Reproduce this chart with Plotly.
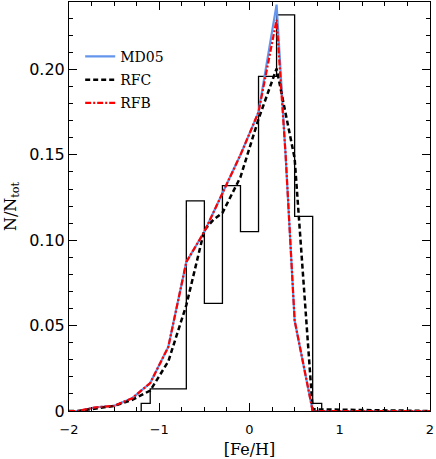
import plotly.graph_objects as go

# observed [Fe/H] histogram (bin edges and normalised counts)
hist_edges = [-1.2, -1.1, -0.9, -0.7, -0.5, -0.3, -0.1, 0.1, 0.3, 0.5, 0.7, 0.8]
hist_frac = [0.0045, 0.013, 0.013, 0.123, 0.063, 0.132, 0.105, 0.196, 0.232, 0.114, 0.0045]

# model curves
feh_grid = [-2.0, -1.9, -1.7, -1.5, -1.3, -1.1, -0.9, -0.7, -0.5, -0.3, -0.1, 0.1, 0.3, 0.4, 0.5, 0.7, 2.0]
md05 = [0.0, 0.0, 0.0022, 0.003, 0.0075, 0.0164, 0.0375, 0.0873, 0.105, 0.128, 0.150, 0.175, 0.238, 0.150, 0.053, 0.0, 0.0]
rfb = [0.0, 0.0, 0.0022, 0.003, 0.0075, 0.0164, 0.0375, 0.0873, 0.105, 0.128, 0.150, 0.175, 0.229, 0.150, 0.053, 0.0, 0.0]

rfc_grid = [-2.0, -1.9, -1.7, -1.5, -1.3, -1.1, -0.9, -0.7, -0.5, -0.4, -0.3, -0.1, 0.1, 0.3, 0.5, 0.7, 2.0]
rfc = [0.0, 0.0, 0.0015, 0.003, 0.0065, 0.012, 0.029, 0.062, 0.106, 0.112, 0.116, 0.137, 0.171, 0.2005, 0.148, 0.001, 0.0]

x_tick_vals = [-2, -1, 0, 1, 2]
y_tick_vals = [0, 0.05, 0.10, 0.15, 0.20]
y_tick_text = ["0", "0.05", "0.10", "0.15", "0.20"]

serif = "DejaVu Serif"
sans = "DejaVu Sans"

fig = go.Figure()

# histogram as a step outline
fig.add_trace(go.Scatter(
    x=[hist_edges[0]] + hist_edges,
    y=[0] + hist_frac + [0],
    mode='lines',
    line=dict(color='black', width=1.3, shape='hv'),
    showlegend=False,
    hoverinfo='skip'
))

fig.add_trace(go.Scatter(
    x=feh_grid, y=md05,
    mode='lines',
    line=dict(color='#6495ED', width=2.2),
    name='MD05', legendgroup='a'
))

fig.add_trace(go.Scatter(
    x=rfc_grid, y=rfc,
    mode='lines',
    line=dict(color='black', width=2.5, dash='5px,3px'),
    name='RFC', legendgroup='b'
))

fig.add_trace(go.Scatter(
    x=feh_grid, y=rfb,
    mode='lines',
    line=dict(color='red', width=2.2, dash='6px,2px,2px,2px'),
    name='RFB', legendgroup='c'
))

axis_common = dict(
    showline=True, linecolor='black', linewidth=1,
    mirror='ticks', ticks='inside', tickcolor='black',
    showgrid=False, zeroline=False, automargin=False,
)

fig.update_xaxes(
    range=[-2, 2],
    tickvals=x_tick_vals,
    ticklen=8, tickwidth=1,
    ticklabelstandoff=6,
    minor=dict(dtick=0.25, ticklen=4, ticks='inside', tickcolor='black'),
    tickfont=dict(family=sans, size=13, color='black'),
    title=dict(text='[Fe/H]', font=dict(family=serif, size=16, color='black'), standoff=8),
    **axis_common
)

fig.update_yaxes(
    range=[0, 0.2395],
    tickvals=y_tick_vals,
    ticktext=y_tick_text,
    ticklen=8, tickwidth=1,
    minor=dict(dtick=0.01, ticklen=4, ticks='inside', tickcolor='black'),
    tickfont=dict(family=sans, size=16, color='black'),
    title=dict(text='N/N<sub>tot</sub>', font=dict(family=serif, size=16, color='black'), standoff=8),
    **axis_common
)

fig.update_layout(
    width=436, height=459,
    margin=dict(l=69, r=6, t=2, b=48),
    plot_bgcolor='white',
    paper_bgcolor='white',
    legend=dict(
        x=0.031, y=0.905, xanchor='left', yanchor='top',
        font=dict(family=serif, size=14, color='black'),
        bgcolor='rgba(0,0,0,0)',
        traceorder='grouped',
        tracegroupgap=2
    )
)

# drop the page's default body margin so the figure sits at the window corner
fig.write_html("out.html",
               config={'displayModeBar': False},
               post_script="document.body.style.margin='0';")
